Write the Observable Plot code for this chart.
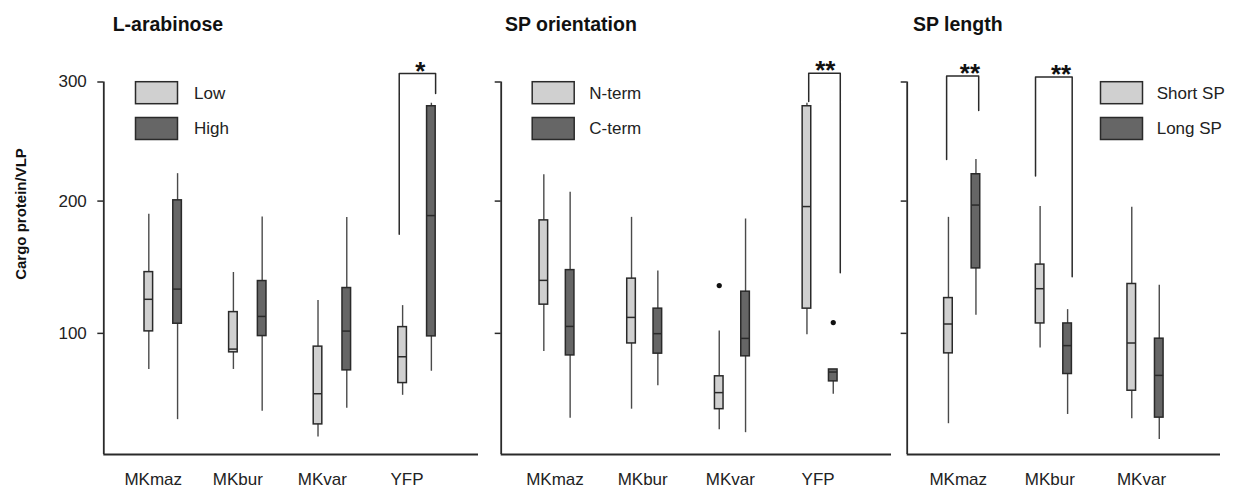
<!DOCTYPE html>
<html>
<head>
<meta charset="utf-8">
<script src="https://cdn.jsdelivr.net/npm/d3@7"></script>
<script src="https://cdn.jsdelivr.net/npm/@observablehq/plot@0.6"></script>
<style>
  html, body { margin: 0; padding: 0; background: #fff; }
  #chart { position: relative; width: 1233px; height: 489px; overflow: hidden; background: #fff;
           font-family: "Liberation Sans", Arial, sans-serif; color: #222; }
  #chart > svg { position: absolute; top: 0; }
</style>
</head>
<body>
<div id="chart"></div>
<script>
// ---------------- DATA ----------------
// every box: [lower whisker, Q1, median, Q3, upper whisker]
const yTitle = "Cargo protein/VLP";
const yTicks = [100, 200, 300];
const panelTitles = ["L-arabinose", "SP orientation", "SP length"];

const arabinoseCategories = ["MKmaz", "MKbur", "MKvar", "YFP"];
const arabinoseGroups = ["Low", "High"];
const arabinoseLow = [
  [75.4, 101.4, 124.4, 144.6, 189.4],
  [75.4, 86.9, 89.1, 115.1, 144.3],
  [33.7, 41.0, 59.7, 90.8, 123.6],
  [58.7, 66.5, 83.9, 104.4, 119.8]
];
const arabinoseHigh = [
  [43.8, 106.8, 131.9, 200.6, 222.3],
  [48.9, 98.1, 112.0, 137.9, 187.3],
  [50.6, 74.8, 101.6, 132.7, 186.8],
  [74.3, 97.9, 188.4, 279.0, 281.5]
];
const arabinoseOutliers = [];
const arabinoseBrackets = [
  {category: "YFP", leftEnd: 173.6, rightEnd: 289.9, top: 307.4, label: "*"}
];

const orientationCategories = ["MKmaz", "MKbur", "MKvar", "YFP"];
const orientationGroups = ["N-term", "C-term"];
const orientationN = [
  [87.5, 120.5, 138.4, 184.6, 221.5],
  [50.1, 93.0, 111.3, 139.7, 187.0],
  [37.9, 50.1, 60.4, 70.9, 101.6],
  [99.1, 117.6, 195.6, 279.0, 281.5]
];
const orientationC = [
  [44.7, 84.8, 104.9, 146.1, 207.1],
  [64.8, 86.0, 99.8, 117.6, 145.4],
  [36.2, 84.2, 96.5, 130.0, 185.7],
  [59.3, 67.6, 73.7, 75.4, 75.4]
];
const orientationOutliers = [
  {category: "MKvar", group: "N-term", value: 134.5},
  {category: "YFP", group: "C-term", value: 107.6}
];
const orientationBrackets = [
  {category: "YFP", leftEnd: 283.0, rightEnd: 144.2, top: 307.7, label: "**"}
];

const lengthCategories = ["MKmaz", "MKbur", "MKvar"];
const lengthGroups = ["Short SP", "Long SP"];
const lengthShort = [
  [41.4, 86.2, 106.6, 125.3, 187.0],
  [89.8, 107.0, 132.2, 150.3, 195.6],
  [44.4, 61.6, 93.3, 135.7, 195.0]
];
const lengthLong = [
  [112.8, 147.4, 196.8, 221.8, 233.9],
  [46.9, 72.4, 91.5, 107.0, 116.9],
  [32.4, 45.0, 71.5, 96.3, 134.7]
];
const lengthOutliers = [];
const lengthBrackets = [
  {category: "MKmaz", leftEnd: 233.9, rightEnd: 275.3, top: 305.3, label: "**"},
  {category: "MKbur", leftEnd: 220.4, rightEnd: 141.2, top: 304.4, label: "**"}
];

// ---------------- LAYOUT / STYLE ----------------
const yDomain = [24.2, 300];
const lightFill = "#d0d0d0", darkFill = "#666666";
const inkColor = "#2a2a2a", whiskerColor = "#4a4a4a";
const FONT = '"Liberation Sans", Arial, Helvetica, sans-serif';

const panels = [
  {title: panelTitles[0], categories: arabinoseCategories, groups: arabinoseGroups,
   series: [arabinoseLow, arabinoseHigh], outliers: arabinoseOutliers, brackets: arabinoseBrackets,
   bracketLayout: [{left: -0.21, right: 0.22, star: 0.04}],
   svgLeft: 0, width: 480, marginLeft: 103.3, marginRight: 2, xDomain: [-0.702, 3.727],
   offset: 0.17, labelDx: -10, tickLabels: true,
   titleX: 112.7, legendX: 135.5, legendTextX: 194},
  {title: panelTitles[1], categories: orientationCategories, groups: orientationGroups,
   series: [orientationN, orientationC], outliers: orientationOutliers, brackets: orientationBrackets,
   bracketLayout: [{left: -0.13, right: 0.23, star: 0.06}],
   svgLeft: 480, width: 413, marginLeft: 20.7, marginRight: 2, xDomain: [-0.636, 3.814],
   offset: 0.15, labelDx: -2, tickLabels: false,
   titleX: 505, legendX: 532.2, legendTextX: 589.3},
  {title: panelTitles[2], categories: lengthCategories, groups: lengthGroups,
   series: [lengthShort, lengthLong], outliers: lengthOutliers, brackets: lengthBrackets,
   bracketLayout: [{left: -0.17, right: 0.18, star: 0.085}, {left: -0.20, right: 0.20, star: 0.078}],
   svgLeft: 893, width: 340, marginLeft: 13.7, marginRight: 13, xDomain: [-0.60, 2.818],
   offset: 0.15, labelDx: -4, tickLabels: false,
   titleX: 913, legendX: 1100.5, legendTextX: 1156.7}
];

const chart = document.getElementById("chart");

function renderPanel(p) {
  const n = p.categories.length;
  const pxPerUnit = (p.width - p.marginLeft - p.marginRight) / (p.xDomain[1] - p.xDomain[0]);
  const hw = 4.3 / pxPerUnit;
  const rows = [];
  p.categories.forEach((c, i) => {
    p.groups.forEach((g, j) => {
      const s = p.series[j][i];
      rows.push({category: c, group: g, pos: i + (j === 0 ? -1 : 1) * p.offset,
                 min: s[0], q1: s[1], med: s[2], q3: s[3], max: s[4]});
    });
  });
  const outs = p.outliers.map(o => ({
    pos: p.categories.indexOf(o.category) + (p.groups.indexOf(o.group) === 0 ? -1 : 1) * p.offset,
    value: o.value
  }));
  const bracketPts = [];
  const stars = [];
  p.brackets.forEach((b, k) => {
    const L = p.bracketLayout[k];
    const c = p.categories.indexOf(b.category);
    bracketPts.push({id: k, x: c + L.left, y: b.leftEnd});
    bracketPts.push({id: k, x: c + L.left, y: b.top});
    bracketPts.push({id: k, x: c + L.right, y: b.top});
    bracketPts.push({id: k, x: c + L.right, y: b.rightEnd});
    stars.push({x: c + L.star, y: b.top, label: b.label});
  });

  const svg = Plot.plot({
    width: p.width, height: 489,
    marginTop: 81.5, marginBottom: 35, marginLeft: p.marginLeft, marginRight: p.marginRight,
    style: {fontFamily: FONT, fontSize: "17px", color: "#222", background: "transparent", overflow: "visible"},
    x: {type: "linear", domain: p.xDomain},
    y: {type: "pow", exponent: 0.8, domain: yDomain},
    color: {domain: p.groups, range: [lightFill, darkFill]},
    marks: [
      Plot.axisY({ticks: yTicks, tickSize: 6, tickPadding: 11, fontSize: 17, strokeWidth: 1.5,
                  stroke: inkColor, label: null,
                  tickFormat: p.tickLabels ? (d => String(d)) : (() => "")}),
      Plot.axisX({ticks: d3.range(n), tickSize: 0, tickPadding: 18, fontSize: 17, label: null,
                  dx: p.labelDx, tickFormat: i => p.categories[i]}),
      Plot.ruleY([yDomain[0]], {x1: p.xDomain[0], x2: p.xDomain[1], stroke: inkColor, strokeWidth: 1.8}),
      Plot.ruleX([p.xDomain[0]], {y1: yDomain[0], y2: yDomain[1], stroke: inkColor, strokeWidth: 1.8}),
      Plot.ruleX(rows, {x: "pos", y1: "min", y2: "max", stroke: whiskerColor, strokeWidth: 1.4}),
      Plot.rect(rows, {x1: d => d.pos - hw, x2: d => d.pos + hw, y1: "q1", y2: "q3",
                       fill: "group", stroke: inkColor, strokeWidth: 1.5}),
      Plot.ruleY(rows, {x1: d => d.pos - hw, x2: d => d.pos + hw, y: "med", stroke: inkColor, strokeWidth: 1.5}),
      Plot.dot(outs, {x: "pos", y: "value", r: 2.6, fill: "#111", stroke: null}),
      Plot.line(bracketPts, {x: "x", y: "y", z: "id", stroke: inkColor, strokeWidth: 1.5}),
      Plot.text(stars, {x: "x", y: "y", text: "label", fontSize: 26, fontWeight: "bold",
                        lineAnchor: "bottom", dy: 6, fill: "#111"})
    ]
  });
  svg.style.left = p.svgLeft + "px";
  chart.appendChild(svg);
}

panels.forEach(renderPanel);

// overlay: titles, y title, legends
const ov = d3.select(chart).append("svg")
  .attr("width", 1233).attr("height", 489)
  .style("left", "0px").style("font-family", FONT);

panels.forEach(p => {
  ov.append("text").attr("x", p.titleX).attr("y", 31)
    .attr("font-size", 19.5).attr("font-weight", "bold").attr("fill", "#111").text(p.title);
  p.groups.forEach((g, j) => {
    const top = 81.7 + j * 35.8;
    ov.append("rect").attr("x", p.legendX).attr("y", top).attr("width", 42).attr("height", 22)
      .attr("fill", j === 0 ? lightFill : darkFill).attr("stroke", inkColor).attr("stroke-width", 1.5);
    ov.append("text").attr("x", p.legendTextX).attr("y", top + 11).attr("dy", "0.35em")
      .attr("font-size", 17).attr("fill", "#222").text(g);
  });
});

ov.append("text").attr("transform", "translate(21,214) rotate(-90)")
  .attr("text-anchor", "middle").attr("dy", "0.35em")
  .attr("font-size", 15).attr("font-weight", "bold").attr("fill", "#111").text(yTitle);
</script>
</body>
</html>
